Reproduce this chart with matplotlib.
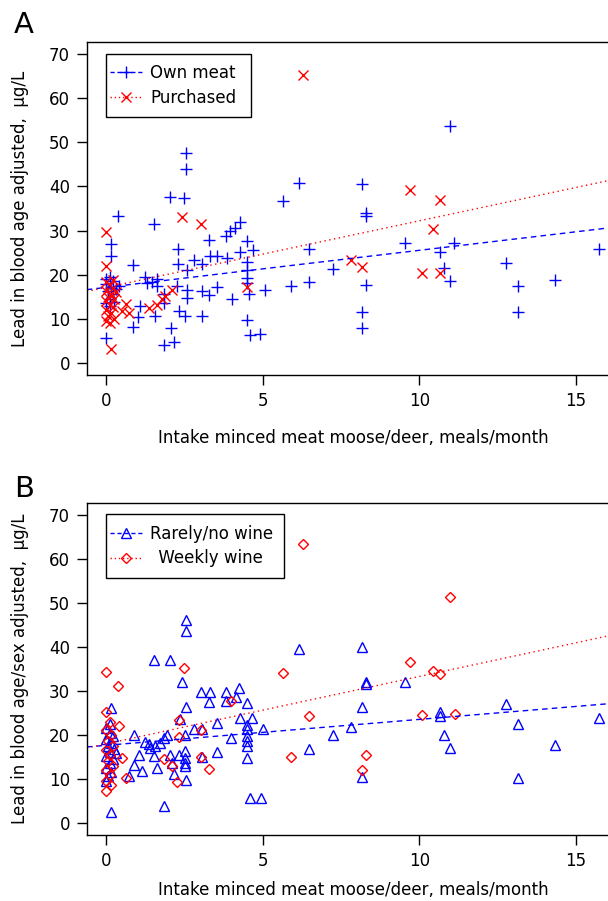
import matplotlib
matplotlib.use("Agg")
import matplotlib.pyplot as plt
from matplotlib.lines import Line2D
from matplotlib.patches import Rectangle

plt.rcParams['font.family'] = ['DejaVu Sans']
plt.rcParams['font.size'] = 12

# panel A: own meat (blue +)
own_x = [0.13, 0.13, 0.0, 0.1, 0.2, 0.0, 0.15, 0.05, 0.2, 0.1, 0.0, 0.25, 0.1, 0.3, 0.39, 0.0,
         0.36, 0.85, 0.85,
         2.54, 2.54, 2.04, 2.49, 1.53, 4.26, 4.12, 3.96, 3.83, 3.27, 4.49, 2.29, 3.3, 3.55, 3.85,
         4.28, 4.68, 4.49, 2.79, 3.05, 2.29, 2.57, 4.49, 4.49, 4.49, 1.62, 1.62, 2.25, 2.57, 2.57,
         3.05, 3.27, 3.53, 4.55, 5.07, 4.01, 1.83, 1.83, 2.31, 2.52, 3.05, 1.56, 1.0, 1.08, 1.24,
         1.3, 1.45, 4.49, 2.06, 1.83, 2.15, 4.6, 4.92,
         6.17, 5.63, 8.16, 8.3, 8.3, 6.49, 9.54, 10.66, 11.12, 7.24, 10.8, 11.0, 5.9, 6.49, 8.3,
         8.16, 8.16, 11.0, 15.75, 12.79, 13.16, 14.33, 13.16]
own_y = [27.0, 24.2, 5.5, 19.5, 18.5, 17.8, 17.0, 16.2, 15.5, 14.5, 13.5, 13.8, 12.8, 16.8, 17.4, 19.0,
         33.2, 22.1, 8.1,
         47.6, 44.0, 37.6, 37.3, 31.4, 31.9, 30.6, 29.8, 28.7, 27.8, 27.6, 25.9, 24.2, 24.3, 23.8,
         25.1, 25.5, 22.8, 23.3, 22.5, 22.3, 21.0, 21.0, 19.2, 18.1, 18.9, 17.5, 17.5, 16.5, 14.7,
         16.3, 15.4, 17.2, 15.6, 16.6, 14.4, 15.5, 13.6, 11.7, 10.6, 10.6, 10.6, 10.4, 12.8, 19.4,
         18.0, 18.2, 9.7, 7.8, 4.1, 4.7, 6.2, 6.4,
         40.7, 36.6, 40.6, 33.9, 33.4, 25.9, 27.1, 25.1, 27.1, 21.3, 21.5, 18.5, 17.4, 18.3, 17.6,
         11.6, 7.9, 53.8, 25.9, 22.7, 17.5, 18.7, 11.6]

# panel A: purchased (red x)
purch_x = [0.0, 0.0, 0.13, 0.0, 0.1, 0.2, 0.0, 0.15, 0.05, 0.25, 0.0, 0.1, 0.2, 0.0, 0.15, 0.05,
           0.25, 0.0, 0.1, 0.2, 0.3,
           0.61, 0.5, 0.71, 1.35, 1.62, 1.78, 1.88, 2.09,
           2.41, 3.03, 4.49, 6.3, 9.7, 10.66, 10.45, 7.81, 8.16, 10.1, 10.66]
purch_y = [29.7, 21.9, 3.2, 18.3, 17.6, 17.0, 16.3, 15.6, 15.0, 14.5, 14.0, 13.2, 12.6, 12.0, 11.3, 10.6,
           10.0, 9.5, 9.0, 18.8, 16.0,
           13.3, 11.7, 11.3, 12.5, 13.2, 14.4, 15.1, 16.6,
           33.1, 31.4, 17.2, 65.2, 39.3, 36.9, 30.4, 23.2, 21.7, 20.4, 20.4]

# panel B: rarely/no wine (blue triangles)
rare_x = [0.13, 0.0, 0.1, 0.2, 0.0, 0.15, 0.05, 0.25, 0.1, 0.0, 0.2, 0.1, 0.0, 0.15, 0.05, 0.0, 0.13, 0.3, 0.1,
          0.87, 1.24, 1.35, 1.03, 0.87, 1.14, 0.71,
          2.54, 2.54, 1.53, 2.04, 2.41, 3.02, 3.3, 3.27, 3.83, 4.25, 3.83, 4.15, 4.49, 2.55, 2.36, 3.53,
          4.28, 4.65, 2.79, 3.05, 4.49, 4.49, 4.49, 4.49, 4.49, 5.02, 3.99, 2.52, 1.83, 1.72, 1.56, 1.4,
          1.92, 2.04, 2.31, 2.52, 2.52, 3.05, 3.53, 4.49, 1.53, 1.6, 2.1, 2.15, 2.52, 2.52, 2.55, 1.85,
          4.6, 4.94,
          6.17, 8.16, 8.3, 8.3, 9.54, 8.16, 10.66, 10.66, 7.24, 7.82, 6.49, 10.8, 11.0, 8.16, 12.79,
          13.16, 14.33, 15.75, 13.16]
rare_y = [26.1, 21.5, 20.5, 19.8, 19.0, 18.2, 17.5, 16.8, 16.0, 15.2, 14.5, 13.5, 12.5, 11.5, 10.5, 9.5, 2.4, 15.8, 22.5,
          20.0, 18.4, 17.8, 15.3, 13.2, 11.7, 10.6,
          46.1, 43.6, 37.0, 37.0, 32.1, 29.7, 29.7, 27.4, 29.7, 30.6, 27.6, 28.7, 27.2, 26.4, 23.6, 22.7,
          23.8, 23.9, 21.3, 21.3, 22.3, 21.2, 19.7, 18.5, 17.4, 21.2, 19.3, 20.0, 19.3, 18.1, 17.4, 17.0,
          20.0, 15.5, 15.5, 16.2, 14.7, 15.0, 16.1, 14.7, 15.1, 12.5, 13.6, 11.0, 13.6, 13.0, 9.8, 3.8,
          5.7, 5.7,
          39.5, 40.0, 32.0, 31.6, 32.0, 26.2, 25.1, 24.2, 20.0, 21.7, 16.8, 20.0, 17.0, 10.3, 27.0,
          22.4, 17.6, 23.8, 10.2]

# panel B: weekly wine (red diamonds)
weekly_x = [0.0, 0.36, 0.0, 0.39, 0.5, 0.61, 0.0, 0.1, 0.0, 0.15, 0.05, 0.2, 0.0, 0.1, 0.05, 0.2,
            0.0, 0.1, 0.0, 0.15,
            2.47, 3.99, 2.31, 2.31, 3.03, 3.03, 3.27, 1.83, 2.09, 2.25,
            6.3, 11.0, 5.63, 9.7, 10.45, 10.66, 6.49, 10.1, 11.14, 5.9, 8.3, 8.16]
weekly_y = [34.2, 31.2, 25.2, 21.9, 14.6, 10.2, 7.2, 23.0, 21.0, 20.0, 18.5, 17.5, 16.5, 15.5, 14.0, 13.0,
            12.0, 10.8, 9.5, 8.5,
            35.1, 27.6, 23.4, 19.6, 21.0, 15.0, 12.1, 14.4, 13.0, 9.2,
            63.3, 51.4, 34.0, 36.5, 34.4, 33.9, 24.2, 24.6, 24.7, 15.0, 15.5, 11.9]

# fitted lines (intercept, slope)
fit_own = (17.1, 0.84)
fit_purch = (17.1, 1.51)
fit_rare = (17.6, 0.589)
fit_weekly = (17.95, 1.53)

xticks = [0, 5, 10, 15]
yticks = [0, 10, 20, 30, 40, 50, 60, 70]
xlabel = "Intake minced meat moose/deer, meals/month"

fig = plt.figure(figsize=(6.08, 9.01), dpi=100)
axA = fig.add_axes([0.1426, 0.5838, 0.8776, 0.3696])
axB = fig.add_axes([0.1426, 0.0733, 0.8776, 0.3688])

blue = '#0000ff'
red = '#ff0000'


def style_axis(ax, ylabel, xpad):
    ax.set_xlim(-0.632, 16.43)
    ax.set_ylim(-2.8, 72.8)
    ax.set_xticks(xticks)
    ax.set_yticks(yticks)
    ax.tick_params(direction='out', length=7, width=1, labelsize=12, pad=5)
    for s in ax.spines.values():
        s.set_linewidth(1)
    ax.set_xlabel(xlabel, fontsize=12, labelpad=xpad)
    ax.set_ylabel(ylabel, fontsize=12, labelpad=14)


def add_legend(ax, handles, labels, box):
    # R style legend: frame drawn separately, handles close to the left edge
    ax.add_patch(Rectangle((box[0], box[1]), box[2], box[3], transform=ax.transAxes,
                           fill=True, facecolor='white', edgecolor='black', lw=1, zorder=4))
    leg = ax.legend(handles, labels, loc='center left',
                    bbox_to_anchor=(box[0] + 0.008, box[1] + box[3] / 2),
                    borderaxespad=0, borderpad=0, frameon=False, handlelength=1.9,
                    handletextpad=0.5, labelspacing=0.4, fontsize=12)
    leg.set_zorder(5)
    return leg


# panel A
axA.plot(own_x, own_y, ls='none', marker='+', ms=9, mew=1.0, color=blue)
axA.plot(purch_x, purch_y, ls='none', marker='x', ms=6.5, mew=1.0, color=red)
axA.axline((0, fit_own[0]), slope=fit_own[1], color=blue, ls=(0, (4, 3)), lw=1)
axA.axline((0, fit_purch[0]), slope=fit_purch[1], color=red, ls=(0, (1, 2.5)), lw=1)
style_axis(axA, "Lead in blood age adjusted,  \u00b5g/L", 14)
hA = [Line2D([], [], color=blue, ls=(0, (3, 2)), lw=1, marker='+', ms=9, mew=1.0),
      Line2D([], [], color=red, ls=(0, (1, 2)), lw=1, marker='x', ms=6.5, mew=1.0)]
add_legend(axA, hA, ["Own meat", "Purchased"], (0.0362, 0.775, 0.272, 0.189))
fig.text(0.023, 0.9634, "A", fontsize=21, ha='left', va='baseline')

# panel B
axB.plot(rare_x, rare_y, ls='none', marker='^', ms=7.5, mew=1.0, mfc='none', color=blue)
axB.plot(weekly_x, weekly_y, ls='none', marker='D', ms=5.5, mew=1.0, mfc='none', color=red)
axB.axline((0, fit_rare[0]), slope=fit_rare[1], color=blue, ls=(0, (4, 3)), lw=1)
axB.axline((0, fit_weekly[0]), slope=fit_weekly[1], color=red, ls=(0, (1, 2.5)), lw=1)
style_axis(axB, "Lead in blood age/sex adjusted,  \u00b5g/L", 8)
hB = [Line2D([], [], color=blue, ls=(0, (3, 2)), lw=1, marker='^', ms=7.5, mew=1.0, mfc='none'),
      Line2D([], [], color=red, ls=(0, (1, 2)), lw=1, marker='D', ms=5.5, mew=1.0, mfc='none')]
add_legend(axB, hB, ["Rarely/no wine", "\u2002Weekly wine"], (0.0362, 0.773, 0.3336, 0.193))
fig.text(0.023, 0.4484, "B", fontsize=21, ha='left', va='baseline')

fig.savefig("out.png", dpi=100)
